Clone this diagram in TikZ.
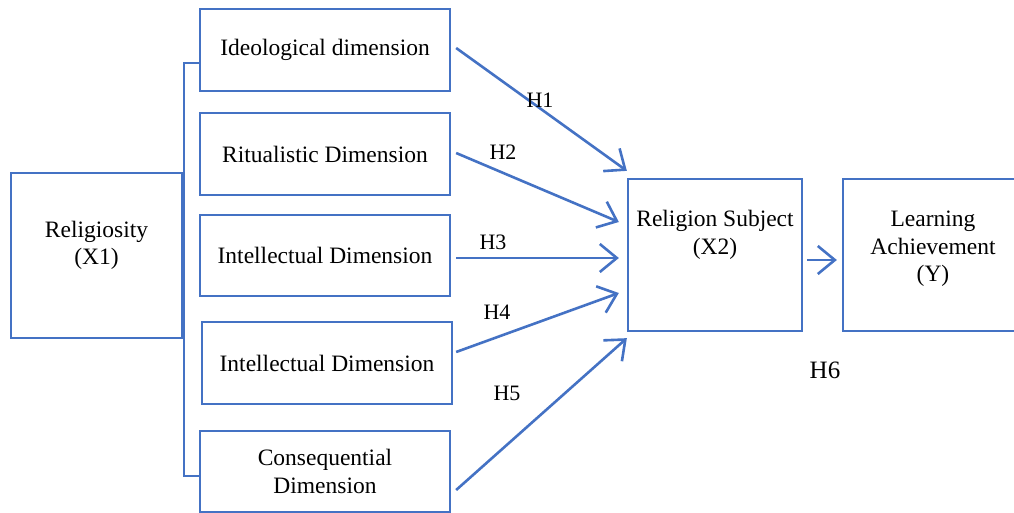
\documentclass[tikz,border=0pt]{standalone}
\usepackage{fontspec}
\setmainfont{Liberation Serif}
\usetikzlibrary{arrows.meta}
\definecolor{boxblue}{HTML}{4472C4}
\begin{document}
\begin{tikzpicture}[x=1pt,y=-1pt,
  box/.style={draw=boxblue,line width=2.3pt,inner sep=0pt,align=center,
    font=\fontsize{23.5}{27.5}\selectfont},
  txt/.style={align=center,inner sep=0pt,font=\fontsize{23.5}{27.5}\selectfont},
  link/.style={draw=boxblue,line width=2.6pt,
    -{Straight Barb[length=17pt,width=28pt,line width=2.6pt]}},
  hlab/.style={inner sep=0pt,font=\fontsize{22}{26}\selectfont}]
\useasboundingbox (0,0) rectangle (1014,513);

% independent variable
\node[box,minimum width=171pt,minimum height=165pt] (rel) at (96.5,255.5) {};
\node[txt] (reltxt) at ([shift={(0,-10)}]rel.center) {Religiosity\\(X1)};

% its five dimensions
\node[box,minimum width=250pt,minimum height=82pt] (d1) at (325,50) {Ideological dimension};
\node[box,minimum width=250pt,minimum height=82pt] (d2) at (325,154) {Ritualistic Dimension};
\node[box,minimum width=250pt,minimum height=81pt] (d3) at (325,255.5) {Intellectual Dimension};
\node[box,minimum width=250pt,minimum height=82pt] (d4) at (327,363) {Intellectual Dimension};
\node[box,minimum width=250pt,minimum height=81pt] (d5) at (325,471.5) {Consequential\\Dimension};

% bracket grouping the dimensions
\draw[boxblue,line width=1.3pt]
  ([shift={(0,13)}]d1.west) -- ++(-15,0) |- ([shift={(0,4.5)}]d5.west);

% mediator and outcome
\node[box,minimum width=174pt,minimum height=152pt] (x2) at (715,255) {};
\node[txt] (x2txt) at ([shift={(0,-20)}]x2.center) {Religion Subject\\(X2)};
\node[box,minimum width=180pt,minimum height=152pt] (y) at (933,255) {};
\node[txt] (ytxt) at ([shift={(0,-6)}]y.center) {Learning\\Achievement\\(Y)};

% hypotheses
\draw[link] ([shift={(5,-2)}]d1.east) -- ([shift={(0,-7)}]x2.north west);
\draw[link] ([shift={(5,-1)}]d2.east) -- ([shift={(-8,-33)}]x2.west);
\draw[link] ([shift={(5,2.5)}]d3.east) -- ([shift={(-8,3)}]x2.west);
\draw[link] ([shift={(3,-11)}]d4.east) -- ([shift={(-8,38)}]x2.west);
\draw[link] ([shift={(5,18.5)}]d5.east) -- ([shift={(0,6)}]x2.south west);
\draw[link] ([shift={(4,5)}]x2.east) -- ([shift={(-5,5)}]y.west);

\node[hlab] (h1) at (540,100) {H1};
\node[hlab] (h2) at (503,152) {H2};
\node[hlab] (h3) at (493,242) {H3};
\node[hlab] (h4) at (497,312) {H4};
\node[hlab] (h5) at (507,393) {H5};
\node[hlab,font=\fontsize{25}{29}\selectfont] (h6) at (825,370) {H6};
\end{tikzpicture}
\end{document}
